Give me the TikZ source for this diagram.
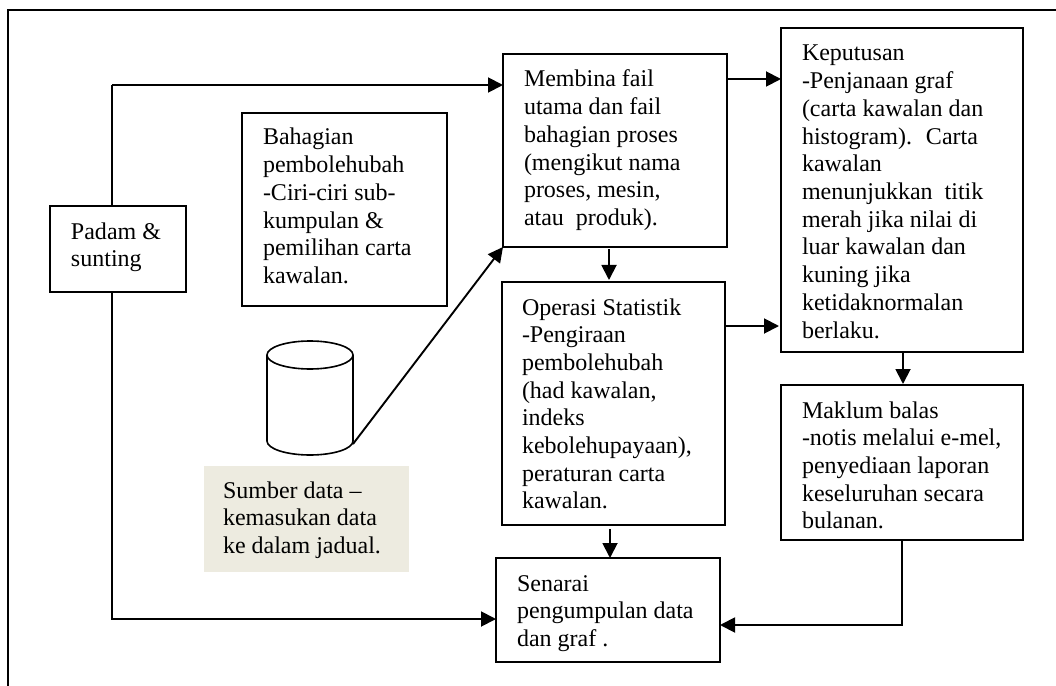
\documentclass[tikz,border=0pt]{standalone}
\usepackage{fontspec}
\setmainfont{Liberation Serif}
\usetikzlibrary{arrows.meta,calc}
\definecolor{panel}{HTML}{EDEBE0}
\tikzset{
  wire/.style={line width=1.9bp,draw=black},
  arrowline/.style={wire,-{Triangle[length=15bp,width=15bp]}},
  boxed/.style={draw=black,line width=1.9bp,inner sep=0pt,outer sep=0pt},
  shaded/.style={fill=panel,draw=none,inner sep=0pt,outer sep=0pt},
  drumbody/.style={draw=none,inner sep=0pt,outer sep=0pt,minimum width=86bp,minimum height=114bp},
  drumline/.style={draw=black,line width=1.6bp}
}
% name, style, x1, y1, x2, y2, left pad, first baseline (absolute), lines
\newcommand{\flowbox}[9]{%
  \pgfmathsetmacro{\bw}{#5-#3}%
  \pgfmathsetmacro{\bh}{#6-#4}%
  \pgfmathsetmacro{\bd}{#8-#4-20}%
  \node[#2] (#1) at ({(#3+#5)/2},{(#4+#6)/2}) {\parbox[c][\bh bp][t]{\bw bp}{%
    \fontsize{24bp}{27.7bp}\selectfont\raggedright\leftskip=#7bp
    \vspace*{\bd bp}\rule{0pt}{20bp}#9}};}
\begin{document}
\begin{tikzpicture}[x=1bp,y=-1bp]
\useasboundingbox (0,0) rectangle (1056,686);
\coordinate (frameA) at (8,686);
\coordinate (frameB) at (8,10);
\coordinate (frameC) at (1056,10);
\draw[wire] (frameA) -- (frameB) -- (frameC);

\flowbox{padam}{boxed}{50}{206}{186}{292}{21}{239}{Padam \&\\sunting}
\flowbox{bahagian}{boxed}{242}{113}{447}{306}{21}{145}{Bahagian\\pembolehubah\\-Ciri-ciri sub-\\kumpulan \&\\pemilihan carta\\kawalan.}
\flowbox{membina}{boxed}{503}{54}{727}{247}{21}{87}{Membina fail\\utama dan fail\\bahagian proses\\(mengikut nama\\proses, mesin,\\atau~ produk).}
\flowbox{keputusan}{boxed}{781}{28}{1023}{352}{21}{61}{Keputusan\\-Penjanaan graf\\(carta kawalan dan\\histogram).~ Carta\\kawalan\\menunjukkan~ titik\\merah jika nilai di\\luar kawalan dan\\kuning jika\\ketidaknormalan\\berlaku.}
\flowbox{operasi}{boxed}{502}{282}{725}{525}{20}{315}{Operasi Statistik\\-Pengiraan\\pembolehubah\\(had kawalan,\\indeks\\kebolehupayaan),\\peraturan carta\\kawalan.}
\flowbox{maklum}{boxed}{781}{385}{1023}{540}{21}{418}{Maklum balas\\-notis melalui e-mel,\\penyediaan laporan\\keseluruhan secara\\bulanan.}
\flowbox{senarai}{boxed}{496}{558}{720}{662}{21}{591}{Senarai\\pengumpulan data\\dan graf .}
\flowbox{sumber}{shaded}{204}{466}{409}{572}{19}{498}{Sumber data --\\kemasukan data\\ke dalam jadual.}

\node[drumbody] (drum) at (310,398) {};
\draw[drumline] ($(drum.north west)+(0,14)$) arc[start angle=180,end angle=-180,x radius=43,y radius=-14];
\draw[drumline] ($(drum.north west)+(0,14)$) -- ($(drum.south west)+(0,-14)$)
  arc[start angle=180,end angle=360,x radius=43,y radius=-14] -- ($(drum.north east)+(0,14)$);

\coordinate (trunk) at (112,85);
\coordinate (lower) at (112,619);
\coordinate (drumout) at (353,444);
\coordinate (mkA) at (728,79);
\coordinate (opA) at (726,326);
\coordinate (mbB) at (609,249);
\coordinate (opB) at (610,529);
\coordinate (kpB) at (903,353);
\coordinate (mkB) at (902,541);
\coordinate (snB) at (720,625);

\draw[wire] (padam.north -| trunk) -- (trunk);
\draw[arrowline] (trunk) -- (trunk -| membina.west);
\draw[arrowline] (padam.south -| lower) |- (lower -| senarai.west);
\draw[arrowline] (drumout) -- (membina.south west);
\draw[arrowline] (mkA) -- (mkA -| keputusan.west);
\draw[arrowline] (opA) -- ($(opA -| keputusan.west)+(-2,0)$);
\draw[arrowline] (mbB) -- ($(mbB |- operasi.north)+(0,-2)$);
\draw[arrowline] (opB) -- (opB |- senarai.north);
\draw[arrowline] (kpB) -- ($(kpB |- maklum.north)+(0,-1)$);
\draw[arrowline] (mkB) |- (snB);
\end{tikzpicture}
\end{document}
